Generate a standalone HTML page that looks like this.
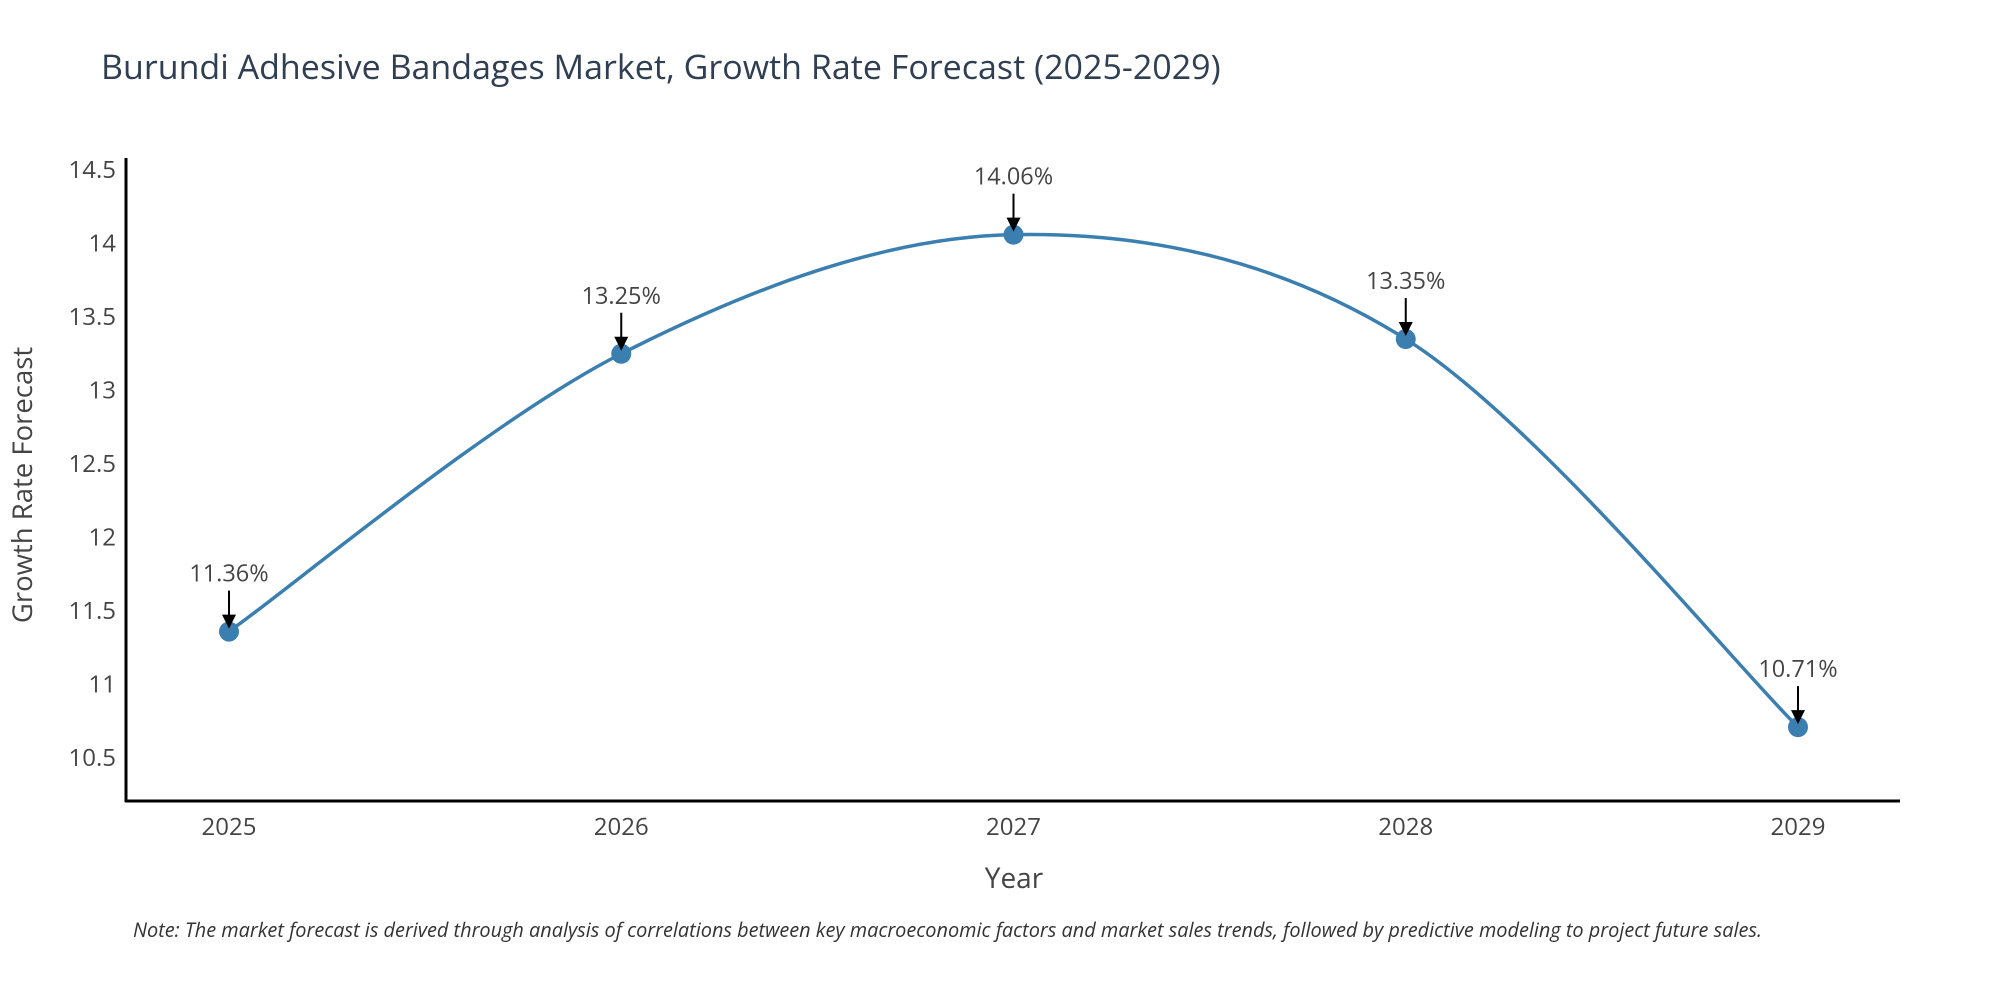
<!DOCTYPE html>
<html><head><meta charset="utf-8"><style>
body{margin:0;background:#fff;}
svg{display:block;font-family:"Open Sans","Liberation Sans",sans-serif;}
</style></head><body>
<svg id="chart" width="2000" height="1000" viewBox="0 0 2000 1000">
<text x="101" y="79" font-size="34" fill="#2f3e52">Burundi Adhesive Bandages Market, Growth Rate Forecast (2025-2029)</text>
<g id="yticks"></g>
<g id="xticks"></g>
<line x1="126" y1="158" x2="126" y2="802" stroke="#000" stroke-width="3"/>
<line x1="125" y1="801" x2="1900" y2="801" stroke="#000" stroke-width="3"/>
<path id="line" fill="none" stroke="#3b7fb1" stroke-width="3.5"/>
<g id="points"></g>
<text x="32" y="485" font-size="27.5" fill="#444" text-anchor="middle" transform="rotate(-90 32 485)">Growth Rate Forecast</text>
<text x="1014" y="888" font-size="28" fill="#444" text-anchor="middle">Year</text>
<text x="133" y="937" font-size="19.9" font-style="italic" fill="#333">Note: The market forecast is derived through analysis of correlations between key macroeconomic factors and market sales trends, followed by predictive modeling to project future sales.</text>
</svg>
<script>
const years = [2025, 2026, 2027, 2028, 2029];
const values = [11.36, 13.25, 14.06, 13.35, 10.71];
const labels = ["11.36%", "13.25%", "14.06%", "13.35%", "10.71%"];
const yTicks = [10.5, 11, 11.5, 12, 12.5, 13, 13.5, 14, 14.5];
const NS = "http://www.w3.org/2000/svg";
const xs = v => 229 + (v - 2025) * 392.25;
const ys = v => 758 - (v - 10.5) * 147;
function mk(tag, attrs, parent){const e=document.createElementNS(NS,tag);for(const k in attrs)e.setAttribute(k,attrs[k]);parent.appendChild(e);return e;}
const yg=document.getElementById('yticks'), xg=document.getElementById('xticks');
yTicks.forEach(t=>{
  const e=mk('text',{x:116,y:ys(t)+8,'font-size':24,fill:'#444','text-anchor':'end'},yg);
  
  
  e.textContent=String(t);
});
years.forEach(y=>{
  const e=mk('text',{x:xs(y),y:835,'font-size':24,fill:'#444','text-anchor':'middle'},xg);
  
  
  e.textContent=String(y);
});
const P=years.map((y,i)=>[xs(y),ys(values[i])]);
let d=`M${P[0][0]},${P[0][1]}`;
const s=0.33;
for(let i=0;i<P.length-1;i++){
  const p0=P[Math.max(i-1,0)],p1=P[i],p2=P[i+1],p3=P[Math.min(i+2,P.length-1)];
  const c1=[p1[0]+(p2[0]-p0[0])*s*0.5, p1[1]+(p2[1]-p0[1])*s*0.5];
  const c2=[p2[0]-(p3[0]-p1[0])*s*0.5, p2[1]-(p3[1]-p1[1])*s*0.5];
  d+=` C${c1[0]},${c1[1]} ${c2[0]},${c2[1]} ${p2[0]},${p2[1]}`;
}
document.getElementById('line').setAttribute('d',d);
const pg=document.getElementById('points');
P.forEach((p,i)=>{
  const c=mk('circle',{cx:p[0],cy:p[1],r:10,fill:'#3b7fb1'},pg);
  
  
  const l=mk('line',{x1:p[0],y1:p[1]-41,x2:p[0],y2:p[1]-14,stroke:'#000','stroke-width':2},pg);
  
  
  const a=mk('polygon',{points:`${p[0]-7},${p[1]-17} ${p[0]+7},${p[1]-17} ${p[0]},${p[1]-3}`,fill:'#000'},pg);
  
  
  const t=mk('text',{x:p[0],y:p[1]-50,'font-size':23.5,fill:'#444','text-anchor':'middle'},pg);
  
  
  t.textContent=labels[i];
});
</script>
</body></html>
